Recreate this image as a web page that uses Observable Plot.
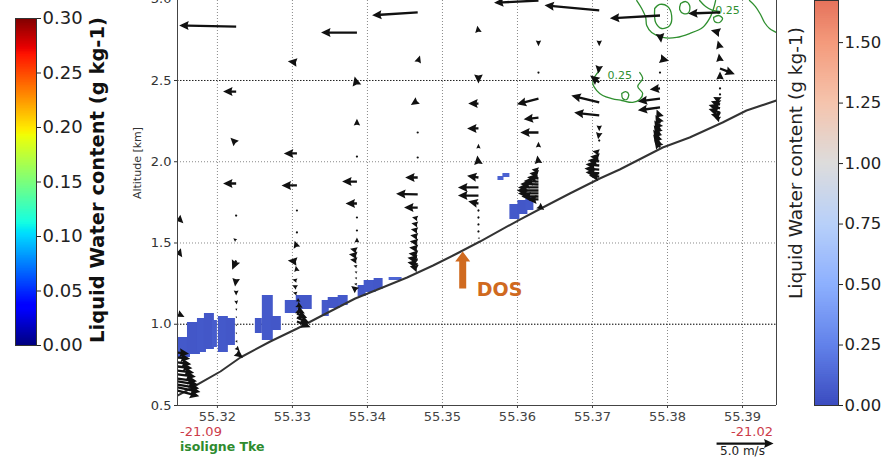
<!DOCTYPE html>
<html><head><meta charset="utf-8">
<script src="https://cdn.jsdelivr.net/npm/d3@7"></script>
<script src="https://cdn.jsdelivr.net/npm/@observablehq/plot@0.6"></script>
<style>
html,body{margin:0;padding:0;background:#fff;}
#wrap{position:relative;width:888px;height:458px;overflow:hidden;font-family:"DejaVu Sans",sans-serif;background:#fff;}
#wrap svg{position:absolute;}
.lbl{position:absolute;white-space:nowrap;line-height:1;}
.rot{transform:translate(-50%,-50%) rotate(-90deg);}
</style></head><body><div id="wrap"></div>
<script>
// ---------- axes ----------
const xDomain = [55.31468, 55.39453];
const yDomain = [0.5, 2.9923];
const xTicks = [55.32, 55.33, 55.34, 55.35, 55.36, 55.37, 55.38, 55.39];
const yTicks = [0.5, 1.0, 1.5, 2.0, 2.5, 3.0];
const darkGrid = [1.0, 2.5];
const leftTicks = [0, 0.05, 0.10, 0.15, 0.20, 0.25, 0.30];
const rightTicks = [0, 0.25, 0.5, 0.75, 1.0, 1.25, 1.5];

// ---------- terrain ----------
const terrainLon = [55.31468,55.31641,55.32040,55.32306,55.32705,55.33065,55.33371,55.33837,55.34169,55.34529,55.34875,55.35194,55.35500,55.36032,55.36338,55.36698,55.37097,55.37363,55.37936,55.38295,55.38734,55.39053,55.39453];
const terrainAlt = [0.5615,0.6046,0.7092,0.7954,0.8938,0.9738,1.0477,1.1585,1.2200,1.2877,1.3615,1.4354,1.5092,1.6446,1.7185,1.8046,1.8969,1.9523,2.0877,2.1492,2.2415,2.3154,2.3769];

// ---------- wind vectors (quiver), m/s ----------
const colLon = [55.3147, 55.3225, 55.3306, 55.3386, 55.3467, 55.3548, 55.3628, 55.3709, 55.3790, 55.3870];
const qCol = [
 0,0,0,0,0,0,0,0,0,0,0,0,0,0,
 1,1,1,1,1,1,1,1,1,1,1,1,1,1,1,1,1,
 2,2,2,2,2,2,2,2,2,2,2,2,2,2,2,2,2,
 3,3,3,3,3,3,3,3,3,3,3,3,3,3,3,3,3,
 4,4,4,4,4,4,4,4,4,4,4,4,4,4,4,4,4,4,
 5,5,5,5,5,5,5,5,5,5,5,5,5,5,5,
 6,6,6,6,6,6,6,6,6,6,6,6,6,6,6,6,6,6,6,
 7,7,7,7,7,7,7,7,7,7,7,7,7,7,7,7,
 8,8,8,8,8,8,8,8,8,8,8,8,8,8,
 9,9,9,9,9,9,9,9,9,9,9,9,9,9];
const qAlt = [
 1.657,1.454,1.066,0.826,0.795,0.765,0.740,0.715,0.691,0.666,0.648,0.629,0.611,0.592,
 2.832,2.432,2.112,1.866,1.669,1.515,1.392,1.282,1.208,1.146,1.097,1.048,0.998,0.949,0.900,0.857,0.826,
 2.611,2.051,1.854,1.700,1.565,1.472,1.386,1.325,1.269,1.226,1.189,1.152,1.122,1.091,1.066,1.042,1.017,
 2.795,2.469,2.223,2.032,1.878,1.743,1.657,1.577,1.503,1.454,1.423,1.392,1.355,1.318,1.282,1.245,1.208,
 2.919,2.611,2.377,2.180,2.026,1.903,1.799,1.718,1.651,1.614,1.577,1.540,1.503,1.466,1.429,1.398,1.368,1.343,
 2.795,2.537,2.358,2.205,2.082,1.983,1.903,1.842,1.792,1.743,1.700,1.657,1.614,1.571,1.534,
 2.992,2.746,2.549,2.389,2.272,2.180,2.088,1.989,1.946,1.922,1.897,1.878,1.860,1.842,1.823,1.805,1.786,1.768,1.731,
 2.931,2.746,2.592,2.488,2.365,2.285,2.223,2.180,2.131,2.057,2.026,2.002,1.977,1.952,1.928,1.909,
 2.900,2.789,2.635,2.549,2.451,2.389,2.334,2.272,2.235,2.198,2.168,2.137,2.112,2.088,
 2.919,2.795,2.697,2.617,2.574,2.506,2.451,2.414,2.377,2.352,2.328,2.303,2.278,2.260];
const qU = [
 0.5,0.4,0.6,1.0,1.1,1.2,1.3,1.45,1.6,1.7,1.8,1.9,2.0,1.9,
 -5.0,-1.15,-0.5,-1.15,0.1,-0.25,-0.35,-0.1,0,0.05,0.05,0.05,0.05,0.05,0.1,0.3,0.6,
 -0.8,-1.15,-1.35,0.1,0.1,-0.2,-0.8,-0.1,-0.4,-0.4,-0.35,0.3,0.5,0.7,0.9,1.1,1.2,
 -3.15,-0.2,0,0.1,-1.3,-1.0,0.1,0.1,0,-0.6,-0.7,-0.6,-0.3,-0.2,-0.2,-0.25,-0.5,
 -4.0,0.2,-0.6,0.1,0.1,-1.1,-1.9,-1.2,-0.5,-0.55,-0.6,-0.65,-0.7,-0.75,-0.8,-0.9,-0.9,-0.7,
 -0.1,0,-0.9,-1.0,0,-0.1,-1.0,-1.8,-1.8,-0.9,0.05,0.05,0.05,0.05,0.1,
 -3.9,0,0.1,-1.9,-1.3,-1.6,0,-0.1,-0.6,-0.8,-1.0,-1.3,-1.6,-1.8,-1.9,-1.8,-1.5,-1.0,0.5,
 -4.8,0,-0.1,-0.8,-2.45,-2.2,0,-0.1,0.1,-0.6,-0.8,-1.0,-1.2,-1.3,-1.2,-0.9,
 -4.4,0.1,0.8,0.1,-0.9,-1.95,-1.95,-0.3,-0.4,-0.5,-0.55,-0.6,-0.6,-0.5,
 -2.8,-0.8,-0.2,-0.1,1.3,0,0.1,0.1,-0.6,-0.8,-1.0,-1.0,-0.8,-0.5];
const qV = [
 -0.5,-0.6,-0.3,-0.1,-0.1,-0.15,-0.15,-0.2,-0.2,-0.25,-0.3,-0.35,-0.4,-0.5,
 0.1,0,0.5,0,0.05,0.2,-0.8,-0.7,-0.45,-0.35,-0.2,-0.15,-0.15,-0.15,-0.2,-0.3,-0.45,
 0.1,0,0,0,0,0.6,0.1,0.5,0.1,0.2,0.1,-0.2,-0.3,-0.35,-0.4,-0.5,-0.5,
 0,0.8,0.6,0,0,0,0,0,0.45,0.15,0.1,0.1,0.1,0.1,0.05,0.05,0.4,
 -0.25,0.6,-0.4,0,0,0,0.05,0,0.1,0.1,0.1,0.1,0.1,0.1,0.1,0.15,0.2,0.2,
 0.6,-0.8,0,0,0.4,0.8,0.15,0,0,0.2,-0.1,-0.1,-0.1,-0.1,-0.15,
 -0.2,-0.5,0,-0.5,-0.15,0,0.5,0.7,0.1,0.1,0.1,0.05,0.05,0,0,0,0,0,-0.4,
 0.45,-0.5,-0.7,0.6,0.6,0.25,-0.5,-0.6,-0.1,0.1,0.1,0.1,0.1,0.1,0.1,0.1,
 -0.25,-0.8,-0.2,0,-0.1,-0.25,-0.25,0.7,0.75,0.8,0.8,0.85,0.8,0.7,
 -0.1,0.2,0.7,0.7,-0.5,0.7,0,0,0.3,0.3,0.3,0.3,0.2,0.2];
const keySpeed = 5.0, keyLon = 55.38654, keyAlt = 0.266;

// ---------- liquid water content patches (g/kg) ----------
const patchLon1 = [55.31468,55.31601,55.31734,55.31827,55.31933,55.32013,55.32120,55.32506,55.32599,55.32719,55.32905,55.33051,55.33397,55.33477,55.33610,55.33876,55.33956,55.34089,55.34289,55.35740,55.35806,55.35899,55.36006,55.36112];
const patchLon2 = [55.31641,55.31774,55.31854,55.31960,55.32000,55.32146,55.32240,55.32599,55.32745,55.32852,55.33078,55.33264,55.33491,55.33637,55.33743,55.33983,55.34116,55.34209,55.34462,55.35820,55.35899,55.36032,55.36139,55.36219];
const patchAlt1 = [0.7954,0.8138,0.8262,0.8446,0.8569,0.8262,0.8692,0.9431,0.9000,0.9615,1.0662,1.0908,1.0477,1.0969,1.1154,1.1708,1.1954,1.2138,1.2692,1.8846,1.9031,1.6446,1.6754,1.7000];
const patchAlt2 = [0.9185,1.0108,1.0354,1.0662,1.0231,1.0477,1.0354,1.0354,1.1769,1.0477,1.1462,1.1769,1.1462,1.1646,1.1769,1.2385,1.2692,1.2815,1.2877,1.9092,1.9277,1.7369,1.7615,1.7800];
const patchLwc  = [0.06,0.05,0.06,0.05,0.08,0.06,0.05,0.05,0.06,0.05,0.06,0.05,0.06,0.05,0.06,0.05,0.06,0.05,0.12,0.10,0.10,0.06,0.05,0.06];

// ---------- TKE isolines (0.25) ----------
const tkeId  = [0,0,0,0,0,0,0,0,0,0,0,0,0, 1,1,1,1,1,1, 2,2,2,2,2,2,2,2,2,2,2,2, 3,3,3,3,3,3,3,3, 4,4,4,4,4,4,4, 5,5,5,5, 6,6,6,6,6,6, 7,7,7,7,7,7];
const tkeLon = [55.37630,55.37669,55.37603,55.37669,55.37630,55.37536,55.37390,55.37257,55.37137,55.37057,55.37004,55.37031,55.37097,
 55.37390,55.37443,55.37483,55.37456,55.37403,55.37390,
 55.37590,55.37656,55.37709,55.37723,55.37789,55.37936,55.38122,55.38295,55.38468,55.38561,55.38614,55.38641,
 55.37829,55.37896,55.38002,55.38055,55.38029,55.37922,55.37842,55.37829,
 55.38175,55.38242,55.38295,55.38282,55.38215,55.38162,55.38175,
 55.38428,55.38508,55.38601,55.38694,
 55.39093,55.39173,55.39240,55.39293,55.39360,55.39453,
 55.38614,55.38681,55.38734,55.38694,55.38628,55.38614];
const tkeAlt = [2.549,2.512,2.463,2.420,2.383,2.365,2.377,2.389,2.408,2.438,2.482,2.525,2.562,
 2.420,2.432,2.414,2.383,2.389,2.420,
 2.992,2.943,2.888,2.838,2.795,2.765,2.765,2.789,2.826,2.882,2.943,2.992,
 2.943,2.968,2.955,2.900,2.838,2.820,2.857,2.943,
 2.974,2.986,2.962,2.918,2.912,2.937,2.974,
 2.992,2.955,2.931,2.925,
 2.992,2.955,2.906,2.857,2.820,2.795,
 2.888,2.900,2.882,2.857,2.863,2.888];
const tkeLabelLon = [55.37363, 55.38800];
const tkeLabelAlt = [2.531, 2.928];
const tkeLabelText = ["0.25", "0.25"];

// ---------- annotation ----------
const dosLon = 55.3527, dosAlt = 1.22;

// ---------- colormaps ----------
function segInterp(pts, t) {
  for (let i = 1; i < pts.length; i++) {
    if (t <= pts[i][0]) { const [x0, y0] = pts[i-1], [x1, y1] = pts[i]; return y0 + (y1 - y0) * (t - x0) / (x1 - x0); }
  }
  return pts[pts.length-1][1];
}
function jet(t) {
  t = Math.max(0, Math.min(1, t));
  const r = segInterp([[0,0],[0.35,0],[0.66,1],[0.89,1],[1,0.5]], t);
  const g = segInterp([[0,0],[0.125,0],[0.375,1],[0.64,1],[0.91,0],[1,0]], t);
  const b = segInterp([[0,0.5],[0.11,1],[0.34,1],[0.65,0],[1,0]], t);
  return d3.rgb(r*255, g*255, b*255).formatHex();
}
const coolwarm = d3.piecewise(d3.interpolateRgb, ["#3b4cc0","#6282ea","#8db0fe","#b8d0f9","#dddcdc","#f5c4ad","#f49a7b","#de604d","#b40426"]);
const cwMax = 2.0;

// ---------- quiver shapes ----------
const QW = 2.3, QHW = 9, QHL = 9.5, QHA = 8.5;
const quiverShape = {draw(ctx, l) {
  if (l < 1.8) { ctx.moveTo(1.1, 0); ctx.arc(0, 0, 1.1, 0, 2 * Math.PI); return; }
  if (l < QHL) {
    const s = l / QHL;
    ctx.moveTo(0, -l); ctx.lineTo(QHW / 2 * s, 0); ctx.lineTo(0, -(QHL - QHA) * s); ctx.lineTo(-QHW / 2 * s, 0); ctx.closePath(); return;
  }
  ctx.moveTo(-QW/2, 0); ctx.lineTo(-QW/2, -(l - QHA)); ctx.lineTo(-QHW/2, -(l - QHL)); ctx.lineTo(0, -l);
  ctx.lineTo(QHW/2, -(l - QHL)); ctx.lineTo(QW/2, -(l - QHA)); ctx.lineTo(QW/2, 0); ctx.closePath();
}};
const dosShape = {draw(ctx, l) {
  const w = 7, hw = 15, hl = 10;
  ctx.moveTo(-w/2, 0); ctx.lineTo(-w/2, -(l - hl)); ctx.lineTo(-hw/2, -(l - hl)); ctx.lineTo(0, -l);
  ctx.lineTo(hw/2, -(l - hl)); ctx.lineTo(w/2, -(l - hl)); ctx.lineTo(w/2, 0); ctx.closePath();
}};

// ---------- build tables ----------
const terrain = terrainLon.map((x, i) => ({lon: x, alt: terrainAlt[i]}));
const arrows = qAlt.map((a, i) => ({lon: colLon[qCol[i]], alt: a, speed: Math.hypot(qU[i], qV[i]), angle: Math.atan2(qU[i], qV[i]) * 180 / Math.PI}));
const keyArrow = [{lon: keyLon, alt: keyAlt, speed: keySpeed, angle: 90}];
const patches = patchLon1.map((x, i) => ({x1: x, x2: patchLon2[i], y1: patchAlt1[i], y2: patchAlt2[i], lwc: patchLwc[i]}));
const tke = tkeLon.map((x, i) => ({lon: x, alt: tkeAlt[i], id: tkeId[i]}));
const tkeLabels = tkeLabelLon.map((x, i) => ({lon: x, alt: tkeLabelAlt[i], text: tkeLabelText[i]}));
const dos = [{lon: dosLon, alt: dosAlt}];

const FONT = "DejaVu Sans";
const green = "#2f8f2f", orange = "#d06a1f";

const main = Plot.plot({
  width: 888, height: 458,
  marginLeft: 177, marginRight: 112, marginTop: 0, marginBottom: 53,
  x: {domain: xDomain},
  y: {domain: yDomain},
  length: {domain: [0, 5], range: [0, 57]},
  color: {type: "linear", domain: [0, cwMax], interpolate: coolwarm},
  style: {fontFamily: FONT, fontSize: "13px", background: "transparent", color: "#333"},
  marks: [
    Plot.gridX(xTicks, {stroke: "#8a8a8a", strokeOpacity: 1, strokeDasharray: "1,2"}),
    Plot.gridY(yTicks, {stroke: "#8a8a8a", strokeOpacity: 1, strokeDasharray: "1,2"}),
    Plot.gridY(darkGrid, {stroke: "#222", strokeOpacity: 1, strokeDasharray: "1.5,1.5"}),
    Plot.rect(patches, {x1: "x1", x2: "x2", y1: "y1", y2: "y2", fill: "lwc", clip: true}),
    Plot.line(tke, {x: "lon", y: "alt", z: "id", stroke: green, strokeWidth: 1.3, curve: "catmull-rom", clip: true}),
    Plot.text(tkeLabels, {x: "lon", y: "alt", text: "text", fill: green, fontSize: 11, clip: true}),
    Plot.line(terrain, {x: "lon", y: "alt", stroke: "#333", strokeWidth: 2, clip: true}),
    Plot.vector(arrows, {x: "lon", y: "alt", length: "speed", rotate: "angle", anchor: "start", shape: quiverShape, fill: "#111", stroke: "none", clip: true}),
    Plot.vector(keyArrow, {x: "lon", y: "alt", length: "speed", rotate: "angle", anchor: "start", shape: quiverShape, fill: "#111", stroke: "none"}),
    Plot.vector(dos, {x: "lon", y: "alt", length: 37, rotate: 0, anchor: "start", shape: dosShape, fill: orange, stroke: "none"}),
    Plot.text(dos, {x: "lon", y: "alt", text: () => "DOS", dx: 14, dy: 1, textAnchor: "start", fontWeight: "bold", fontSize: 19, fill: orange}),
    Plot.ruleX([xDomain[0], xDomain[1]], {stroke: "#444"}),
    Plot.ruleY([yDomain[0]], {stroke: "#444"}),
    Plot.axisX(xTicks, {tickFormat: d => d.toFixed(2), tickSize: 3, tickPadding: 3, fontSize: 13, color: "#444", label: null}),
    Plot.axisY(yTicks, {tickFormat: d => d.toFixed(1), tickSize: 3, tickPadding: 3, fontSize: 13, color: "#333", label: null})
  ]
});

// ---------- colorbars ----------
const lStep = 0.0015;
const leftSlices = d3.range(0, 0.3, lStep);
const cbLeft = Plot.plot({
  width: 100, height: 362, marginLeft: 15, marginRight: 64, marginTop: 18, marginBottom: 17,
  x: {domain: [0, 1], axis: null}, y: {domain: [0, 0.3]},
  style: {fontFamily: FONT, background: "transparent", color: "#222"},
  marks: [
    Plot.rect(leftSlices, {x1: 0, x2: 1, y1: d => d, y2: d => Math.min(0.3, d + lStep * 1.6), fill: d => jet((d + lStep / 2) / 0.3)}),
    Plot.frame({stroke: "#333"}),
    Plot.axisY(leftTicks, {anchor: "right", tickFormat: d => d.toFixed(2), tickSize: 4, tickPadding: 2, fontSize: 18, color: "#222", label: null})
  ]
});
const rTop = 1.674, rStep = 0.008;
const rightSlices = d3.range(0, rTop, rStep);
const cbRight = Plot.plot({
  width: 88, height: 420, marginLeft: 14, marginRight: 50, marginTop: 0, marginBottom: 15,
  x: {domain: [0, 1], axis: null}, y: {domain: [0, rTop]},
  style: {fontFamily: FONT, background: "transparent", color: "#222"},
  marks: [
    Plot.rect(rightSlices, {x1: 0, x2: 1, y1: d => d, y2: d => Math.min(rTop, d + rStep * 1.6), fill: d => coolwarm((d + rStep / 2) / cwMax)}),
    Plot.frame({stroke: "#333"}),
    Plot.axisY(rightTicks, {anchor: "right", tickFormat: d => d.toFixed(2), tickSize: 4, tickPadding: 2, fontSize: 16.5, color: "#222", label: null})
  ]
});

const wrap = document.getElementById("wrap");
main.style.left = "0px"; main.style.top = "0px";
cbLeft.style.left = "0px"; cbLeft.style.top = "0px";
cbRight.style.left = "800px"; cbRight.style.top = "0px";
wrap.append(main, cbLeft, cbRight);

function addLabel(text, css, cls) {
  const d = document.createElement("div");
  d.className = "lbl" + (cls ? " " + cls : "");
  d.textContent = text;
  Object.assign(d.style, css);
  wrap.appendChild(d);
}
addLabel("Liquid Water content (g kg-1)", {left: "98px", top: "180px", fontSize: "19.5px", fontWeight: "bold", color: "#111"}, "rot");
addLabel("Liquid Water content (g kg-1)", {left: "796px", top: "163px", fontSize: "18.5px", color: "#222"}, "rot");
addLabel("Altitude [km]", {left: "137px", top: "163px", fontSize: "11px", color: "#333"}, "rot");
addLabel("-21.09", {left: "180px", top: "425px", fontSize: "13px", color: "#cc3b4a"});
addLabel("isoligne Tke", {left: "180px", top: "441px", fontSize: "12.5px", fontWeight: "bold", color: "#2e8b2e"});
addLabel("-21.02", {right: "115px", top: "425px", fontSize: "13px", color: "#cc3b4a"});
addLabel("5.0 m/s", {left: "720px", top: "445px", fontSize: "12px", color: "#222"});
</script></body></html>
